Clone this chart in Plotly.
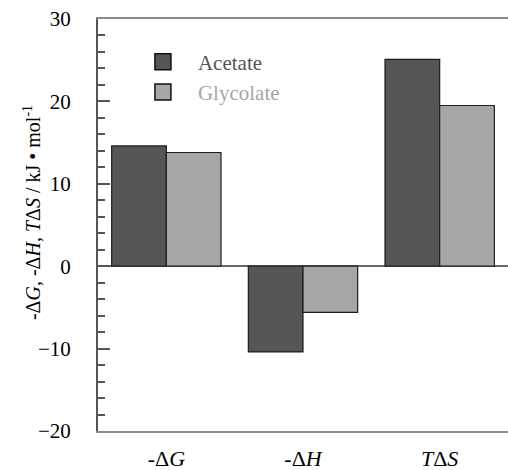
import plotly.graph_objects as go

categories = ["-Δ<i>G</i>", "-Δ<i>H</i>", "<i>T</i>Δ<i>S</i>"]
acetate = [14.6, -10.4, 25.1]
glycolate = [13.8, -5.6, 19.5]
series_names = ["Acetate", "Glycolate"]
y_ticks = [-20, -10, 0, 10, 20, 30]
y_title = "-Δ<i>G</i>, -Δ<i>H</i>, <i>T</i>Δ<i>S</i> / kJ • mol<sup>-1</sup>"

c_ac = "#555658"
c_gl = "#a6a6a6"
FONT = "'Liberation Serif', 'Times New Roman', Times, serif"

fig = go.Figure()
fig.add_trace(go.Bar(x=categories, y=acetate, name=series_names[0], showlegend=False,
                     marker=dict(color=c_ac, line=dict(color="#1e1e1e", width=1.2))))
fig.add_trace(go.Bar(x=categories, y=glycolate, name=series_names[1], showlegend=False,
                     marker=dict(color=c_gl, line=dict(color="#1e1e1e", width=1.2))))
# legend entries
fig.add_trace(go.Scatter(x=[None], y=[None], mode="markers", name=series_names[0],
                         marker=dict(symbol="square", size=16, color=c_ac, line=dict(color="#111", width=1.5))))
fig.add_trace(go.Scatter(x=[None], y=[None], mode="markers",
                         name=f"<span style='color:{c_gl}'>{series_names[1]}</span>",
                         marker=dict(symbol="square", size=16, color=c_gl, line=dict(color="#111", width=1.5))))

fig.update_layout(
    width=508, height=470,
    margin=dict(l=98, r=0, t=19, b=39),
    paper_bgcolor="white", plot_bgcolor="white",
    barmode="group", bargap=0.2, bargroupgap=0,
    font=dict(family=FONT, size=20, color="black"),
    legend=dict(x=0.073, y=0.945, xanchor="left", yanchor="top",
                font=dict(family=FONT, size=21, color="#555555"),
                tracegroupgap=0, itemwidth=60, bgcolor="rgba(0,0,0,0)"),
    xaxis=dict(range=[-0.5, 2.5], showline=True, linecolor="#8a8a8a", linewidth=1.5,
               mirror=True, ticks="", showgrid=False, tickfont=dict(size=22),
               ticklabelstandoff=7, automargin=False),
    yaxis=dict(range=[-20, 30], tickvals=y_ticks, ticks="inside", ticklen=12, tickwidth=2,
               tickcolor="#555555", showline=True, linecolor="#555555", linewidth=2,
               showgrid=False, zeroline=True, zerolinecolor="#6a6a6a", zerolinewidth=1.5,
               minor=dict(dtick=2, ticks="inside", ticklen=7, tickwidth=2, tickcolor="#555555"),
               tickfont=dict(size=21), ticklabelstandoff=21, automargin=False),
    annotations=[dict(text=y_title, textangle=-90, xref="paper", yref="paper",
                      x=(32 - 98) / 410, y=0.529, xanchor="center", yanchor="middle",
                      showarrow=False, font=dict(family=FONT, size=20, color="black"))],
)

fig.write_html("out.html")
